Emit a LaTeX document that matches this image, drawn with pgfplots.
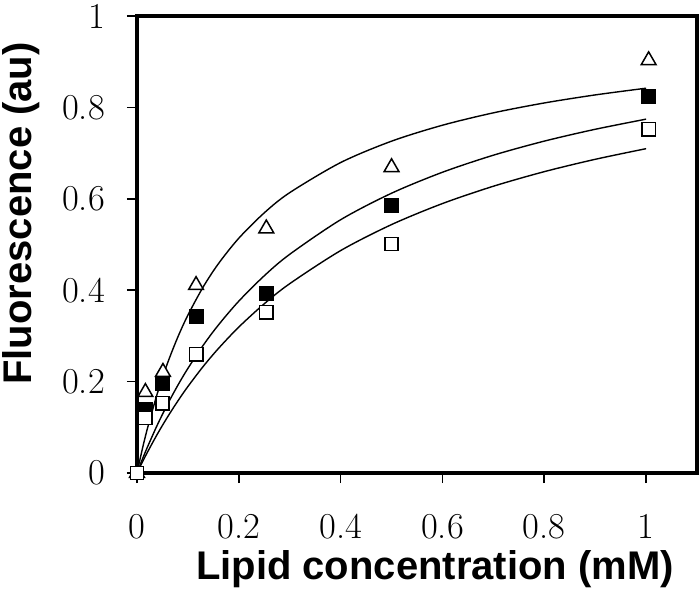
\documentclass[border=0pt]{standalone}
\usepackage{pgfplots}
\pgfplotsset{compat=1.18}
\usepackage{fontspec}
\newfontfamily\labelfont{Liberation Sans}
\newfontfamily\tickfont{Latin Modern Roman}
\usetikzlibrary{calc}
\begin{document}
\begin{tikzpicture}
\begin{axis}[
  scale only axis, width=560pt, height=457pt,
  xmin=0, xmax=1.1, ymin=0, ymax=1,
  xtick={0,0.2,0.4,0.6,0.8,1}, ytick={0,0.2,0.4,0.6,0.8,1},
  /pgf/number format/assume math mode=true,
  tick align=outside, xtick pos=left, ytick pos=left,
  major tick length=10pt,
  every tick/.style={black, line width=1.6pt},
  axis line style={line width=3.2pt},
  xticklabel style={font=\tickfont\fontsize{36.5}{40}\selectfont, anchor=north, inner sep=0pt, yshift=-31pt},
  yticklabel style={font=\tickfont\fontsize{36.5}{40}\selectfont, anchor=east, inner sep=0pt, xshift=-22pt},
  clip=false,
]
\addplot[black, line width=1.4pt, smooth] coordinates {
(0,0) (0.01,0.0501) (0.02,0.0954) (0.04,0.1743) (0.06,0.2405) (0.08,0.2969) (0.1,0.3455) (0.13,0.4071) (0.16,0.4581) (0.2,0.5138) (0.25,0.5693) (0.3,0.6135) (0.4,0.6793) (0.5,0.7261) (0.6,0.7610) (0.7,0.7881) (0.8,0.8097) (0.9,0.8273) (1.0,0.8420)};
\addplot[black, line width=1.4pt, smooth] coordinates {
(0,0) (0.01,0.0285) (0.02,0.0554) (0.04,0.1053) (0.06,0.1504) (0.08,0.1915) (0.1,0.2289) (0.13,0.2794) (0.16,0.3240) (0.2,0.3761) (0.25,0.4316) (0.3,0.4786) (0.4,0.5542) (0.5,0.6122) (0.6,0.6581) (0.7,0.6954) (0.8,0.7262) (0.9,0.7521) (1.0,0.7743)};
\addplot[black, line width=1.4pt, smooth] coordinates {
(0,0) (0.01,0.0227) (0.02,0.0444) (0.04,0.0852) (0.06,0.1226) (0.08,0.1572) (0.1,0.1893) (0.13,0.2331) (0.16,0.2725) (0.2,0.3194) (0.25,0.3703) (0.3,0.4143) (0.4,0.4867) (0.5,0.5436) (0.6,0.5896) (0.7,0.6275) (0.8,0.6594) (0.9,0.6864) (1.0,0.7097)};
% triangles
\addplot[only marks, mark=triangle*, mark size=8.5pt, mark options={draw=black, fill=white, line width=1.5pt}] coordinates {
(0,0) (0.0165,0.177) (0.051,0.221) (0.116,0.411) (0.254,0.535) (0.5,0.669) (1.005,0.903)};
% filled squares
\addplot[only marks, mark=square*, mark size=6.7pt, mark options={draw=black, fill=black, line width=1.5pt}] coordinates {
(0,0) (0.0165,0.139) (0.05,0.196) (0.116,0.343) (0.254,0.393) (0.5,0.586) (1.005,0.824)};
% open squares
\addplot[only marks, mark=square*, mark size=6.7pt, mark options={draw=black, fill=white, line width=1.5pt}] coordinates {
(0,0) (0.0165,0.121) (0.05,0.153) (0.116,0.260) (0.254,0.352) (0.5,0.501) (1.005,0.752)};
\node[font=\labelfont\bfseries\fontsize{40}{44}\selectfont, anchor=base, inner sep=0pt] at ($(rel axis cs:0.532,0)+(0,-106pt)$) {Lipid concentration (mM)};
\node[font=\labelfont\bfseries\fontsize{40}{44}\selectfont, anchor=base, inner sep=0pt, rotate=90] at ($(rel axis cs:0,0.568)+(-105pt,0)$) {Fluorescence (au)};
\coordinate (ll) at (rel axis cs:0,0);
\coordinate (ur) at (rel axis cs:1,1);
\end{axis}
\path ($(ll)+(-137pt,-119pt)$) rectangle ($(ur)+(3pt,16pt)$);
\end{tikzpicture}
\end{document}
